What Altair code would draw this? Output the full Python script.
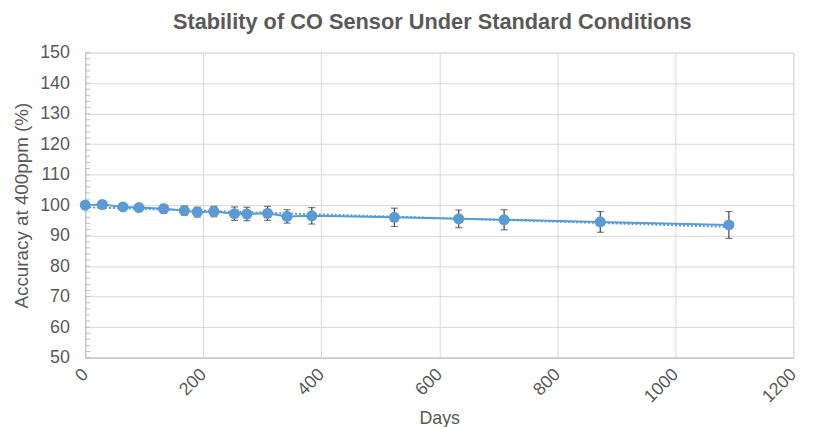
import altair as alt
import pandas as pd

days = [0, 29, 64, 91, 133, 168, 190, 218, 253, 274, 309, 342, 384, 524, 633, 710, 873, 1091]
accuracy = [100.0, 100.2, 99.4, 99.2, 98.8, 98.2, 97.7, 97.9, 97.2, 97.1, 97.3, 96.3, 96.5, 96.0, 95.5, 95.2, 94.5, 93.5]
error = [0.3, 0.5, 0.5, 0.6, 1.4, 1.5, 1.6, 1.7, 2.2, 2.2, 2.3, 2.2, 2.7, 3.0, 2.9, 3.3, 3.4, 4.4]
minor_ticks = list(range(50, 151, 2))

x_ticks = [0, 200, 400, 600, 800, 1000, 1200]
y_ticks = [50, 60, 70, 80, 90, 100, 110, 120, 130, 140, 150]

df = pd.DataFrame({"day": days, "acc": accuracy, "err": error})
df["lo"] = df["acc"] - df["err"]
df["hi"] = df["acc"] + df["err"]
minor_df = pd.DataFrame({"v": minor_ticks})

BLUE = "#5B9BD5"
TEXT = "#595959"
FONT = "Liberation Sans"

xscale = alt.Scale(domain=[0, 1200], nice=False)
yscale = alt.Scale(domain=[50, 150], nice=False)

xaxis = alt.Axis(values=x_ticks, format="d", labelAngle=-45, labelAlign="right", labelBaseline="middle",
                 labelPadding=14, ticks=False, grid=True, gridColor="#d9d9d9",
                 domainColor="#bfbfbf", labelFontSize=18, labelColor=TEXT, labelFont=FONT,
                 titleFontSize=18, titleColor=TEXT, titleFont=FONT, titleFontWeight="normal",
                 titlePadding=4)
yaxis = alt.Axis(values=y_ticks, format="d", ticks=False, grid=True, gridColor="#d9d9d9",
                 domainColor="#bfbfbf", labelFontSize=18, labelColor=TEXT, labelFont=FONT,
                 labelPadding=16, titleFontSize=19, titleColor=TEXT, titleFont=FONT,
                 titleFontWeight="normal", titlePadding=8)

base = alt.Chart(df)

errs = base.mark_errorbar(ticks=alt.TickConfig(size=7, color="#404040", thickness=1.2),
                          color="#404040", thickness=1.2).encode(
    x=alt.X("day:Q", scale=xscale, axis=xaxis, title="Days"),
    y=alt.Y("lo:Q", scale=yscale, axis=yaxis, title="Accuracy at 400ppm (%)"),
    y2="hi:Q",
)

minor = alt.Chart(minor_df).mark_rule(color="#bfbfbf", strokeWidth=1).encode(
    y=alt.Y("v:Q", scale=yscale, axis=yaxis, title="Accuracy at 400ppm (%)"),
    x=alt.value(0), x2=alt.value(5),
)

trend = base.transform_regression("day", "acc", method="linear").mark_line(
    color=BLUE, strokeWidth=2, strokeDash=[2, 2]).encode(
    x=alt.X("day:Q", scale=xscale, axis=xaxis, title="Days"),
    y=alt.Y("acc:Q", scale=yscale, axis=yaxis, title="Accuracy at 400ppm (%)"),
)

line = base.mark_line(color=BLUE, strokeWidth=2).encode(
    x=alt.X("day:Q", scale=xscale, axis=xaxis, title="Days"),
    y=alt.Y("acc:Q", scale=yscale, axis=yaxis, title="Accuracy at 400ppm (%)"),
)

pts = base.mark_circle(color=BLUE, size=125, opacity=1).encode(
    x=alt.X("day:Q", scale=xscale, axis=xaxis, title="Days"),
    y=alt.Y("acc:Q", scale=yscale, axis=yaxis, title="Accuracy at 400ppm (%)"),
)

chart = alt.layer(errs, minor, trend, line, pts).properties(
    width=715, height=308,
    title=alt.TitleParams("Stability of CO Sensor Under Standard Conditions", fontSize=22,
                          font=FONT, fontWeight="bold", color=TEXT, anchor="middle",
                          offset=10, dx=-7),
    autosize=alt.AutoSizeParams(type="none"),
    padding={"left": 78, "top": 43, "right": 21, "bottom": 68},
).configure_view(stroke=None).configure(background="white")

chart.save("out.html", embed_options={"renderer": "svg", "actions": False})
